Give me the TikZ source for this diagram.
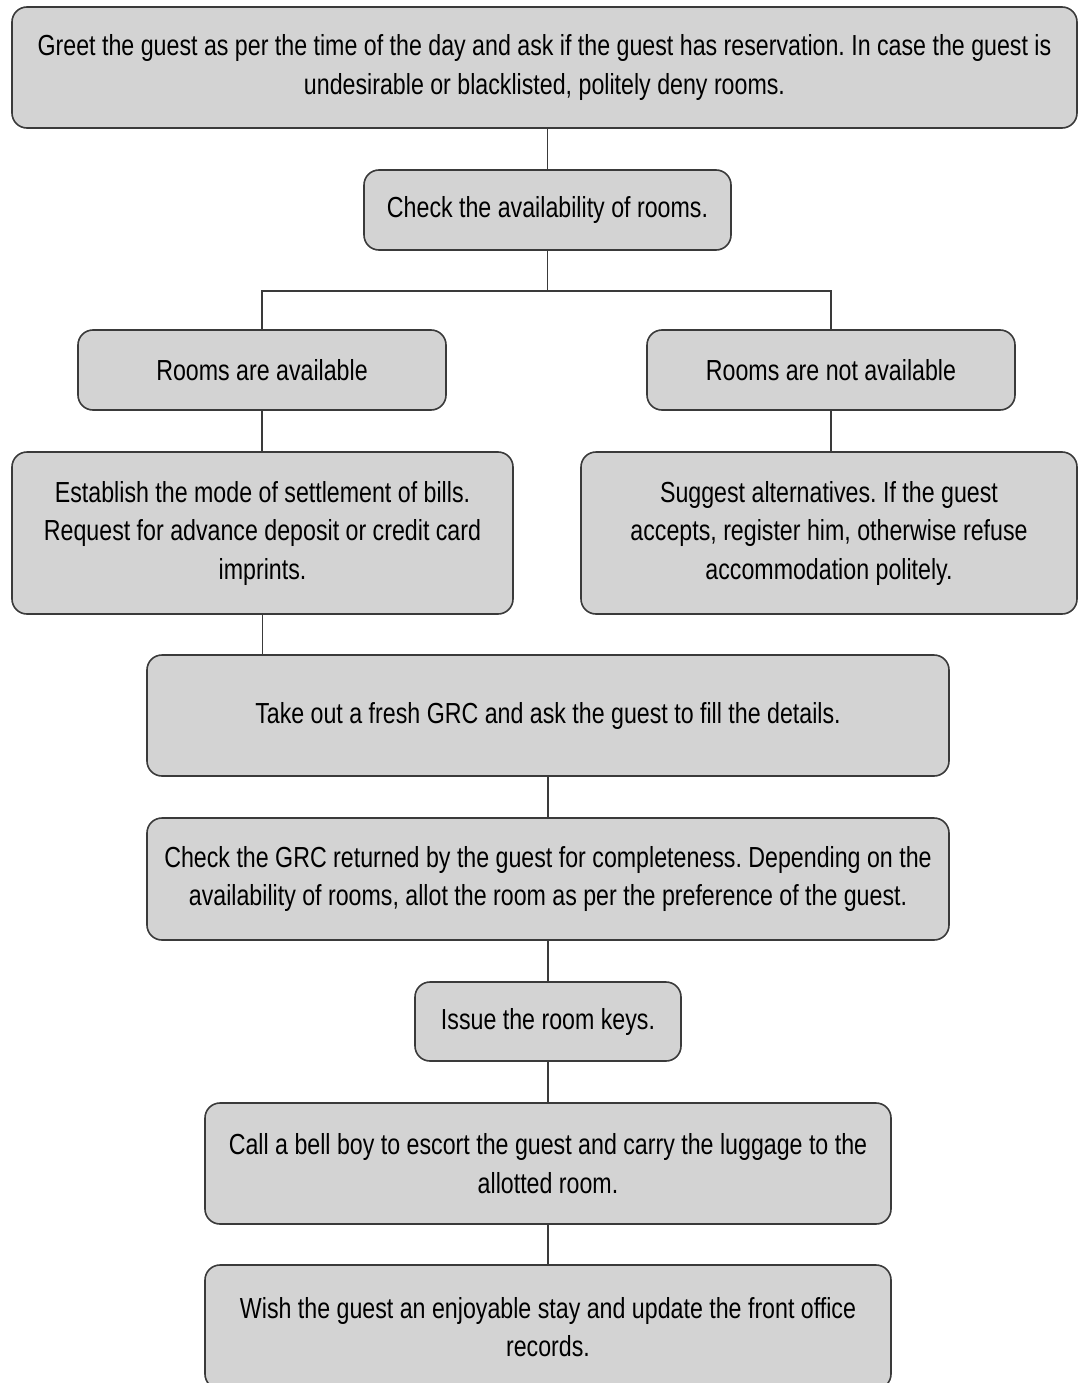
\documentclass[tikz,border=0pt]{standalone}
\usepackage{fontspec}
\setmainfont{Liberation Sans}[FakeStretch=0.8]
\usetikzlibrary{positioning,calc}
\definecolor{boxfill}{HTML}{D3D3D3}
\definecolor{boxline}{HTML}{3A3A3A}
\begin{document}
\frenchspacing
\begin{tikzpicture}[x=1pt,y=-1pt,
  stepbox/.style={draw=boxline, fill=boxfill, line width=1.6pt, rounded corners=15pt,
    align=center, inner sep=0pt, font=\fontsize{29}{38.5}\selectfont},
  link/.style={draw=boxline, line width=1.6pt}]
\useasboundingbox (0,0) rectangle (1078,1383);
\node[stepbox, minimum width=1065pt, minimum height=121pt] (top) at (544.5,67.5)
  {Greet the guest as per the time of the day and ask if the guest has reservation. In case the guest is\\undesirable or blacklisted, politely deny rooms.};
\node[stepbox, minimum width=367pt, minimum height=80pt] (chk) at (547.5,210)
  {Check the availability of rooms.};
\node[stepbox, minimum width=368pt, minimum height=80pt] (av) at (262,370)
  {Rooms are available};
\node[stepbox, minimum width=368pt, minimum height=80pt] (na) at (831,370)
  {Rooms are not available};
\node[stepbox, minimum width=501pt, minimum height=162pt] (est) at (262.5,533)
  {Establish the mode of settlement of bills.\\Request for advance deposit or credit card\\imprints.};
\node[stepbox, minimum width=496pt, minimum height=162pt] (sug) at (829,533)
  {Suggest alternatives. If the guest\\accepts, register him, otherwise refuse\\accommodation politely.};
\node[stepbox, minimum width=802pt, minimum height=121pt] (grc) at (548,715.5)
  {Take out a fresh GRC and ask the guest to fill the details.};
\node[stepbox, minimum width=802pt, minimum height=122pt] (cgrc) at (548,879)
  {Check the GRC returned by the guest for completeness. Depending on the\\availability of rooms, allot the room as per the preference of the guest.};
\node[stepbox, minimum width=266pt, minimum height=79pt] (keys) at (548,1021.5)
  {Issue the room keys.};
\node[stepbox, minimum width=686pt, minimum height=121pt] (bell) at (548,1163.5)
  {Call a bell boy to escort the guest and carry the luggage to the\\allotted room.};
\node[stepbox, minimum width=686pt, minimum height=124pt] (wish) at (548,1327)
  {Wish the guest an enjoyable stay and update the front office\\records.};
\coordinate (br) at ($(chk.south)+(0,40)$);
\draw[link] (chk.north |- top.south) -- (chk.north);
\draw[link] (chk.south) -- (br);
\draw[link] (av.north) |- (br) -| (na.north);
\draw[link] (av.south) -- (est.north -| av.south);
\draw[link] (na.south) -- (sug.north -| na.south);
\draw[link] (est.south) -- (grc.north -| est.south);
\draw[link] (grc.south) -- (cgrc.north);
\draw[link] (cgrc.south) -- (keys.north);
\draw[link] (keys.south) -- (bell.north);
\draw[link] (bell.south) -- (wish.north);
\end{tikzpicture}
\end{document}
